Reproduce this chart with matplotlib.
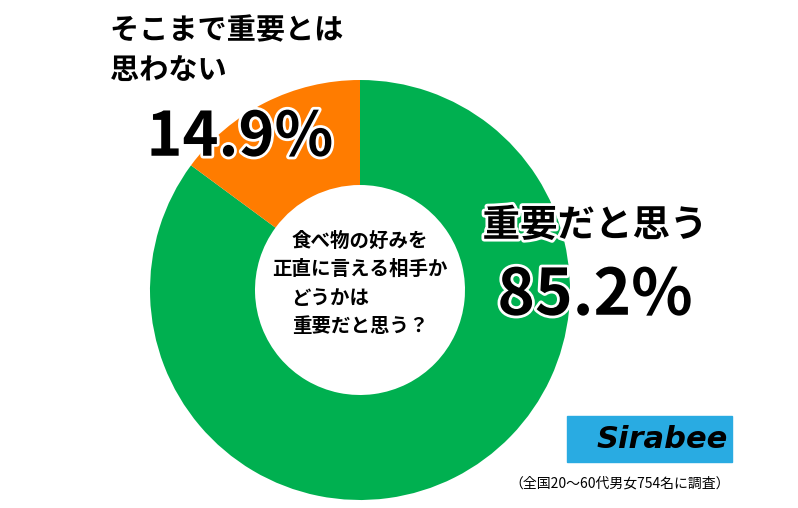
import matplotlib
matplotlib.use("Agg")
import matplotlib.pyplot as plt
import matplotlib.patheffects as pe
from matplotlib.patches import FancyBboxPatch

plt.rcParams['font.family'] = ['Noto Sans CJK JP', 'DejaVu Sans']

labels = ["重要だと思う", "そこまで重要とは\n思わない"]
values = [85.2, 14.9]
colors = ["#00b050", "#ff7c00"]

W, H = 798, 508
fig = plt.figure(figsize=(W/100, H/100), dpi=100)
ax = fig.add_axes([0, 0, 1, 1])

def Y(y): return H - y

ax.pie(values, colors=colors, startangle=90, counterclock=False,
       center=(360, Y(290)), radius=210, frame=False,
       wedgeprops=dict(width=105, edgecolor='none'))
ax.set_xlim(0, W); ax.set_ylim(0, H); ax.set_aspect('equal'); ax.axis('off')

st = [pe.withStroke(linewidth=4, foreground='white')]
ax.text(110, Y(30), "そこまで重要とは", fontsize=21, fontweight='bold', va='center', ha='left', path_effects=st)
ax.text(110, Y(70), "思わない", fontsize=21, fontweight='bold', va='center', ha='left', path_effects=st)
ax.text(240, Y(138), "14.9%", fontsize=44, fontweight='bold', va='center', ha='center', path_effects=st)
ax.text(595, Y(225), "重要だと思う", fontsize=27, fontweight='bold', va='center', ha='center', path_effects=st)
ax.text(595, Y(296), "85.2%", fontsize=46, fontweight='bold', va='center', ha='center', path_effects=st)

for i, line in enumerate(["食べ物の好みを", "正直に言える相手か", "どうかは", "重要だと思う？"]):
    ax.text(360 if i != 2 else 330, Y(241 + i*28.5), line, fontsize=14, fontweight='bold', va='center', ha='center')

ax.add_patch(FancyBboxPatch((567, Y(462)), 165, 46, boxstyle="square,pad=0", color="#29abe2"))
ax.text(662, Y(439), "Sirabee", fontsize=22, fontweight='bold', style='italic', color='black',
        va='center', ha='center', family='DejaVu Sans')
ax.text(620, Y(484), "（全国20〜60代男女754名に調査）", fontsize=10, va='center', ha='center')

fig.savefig("out.png", dpi=100)
